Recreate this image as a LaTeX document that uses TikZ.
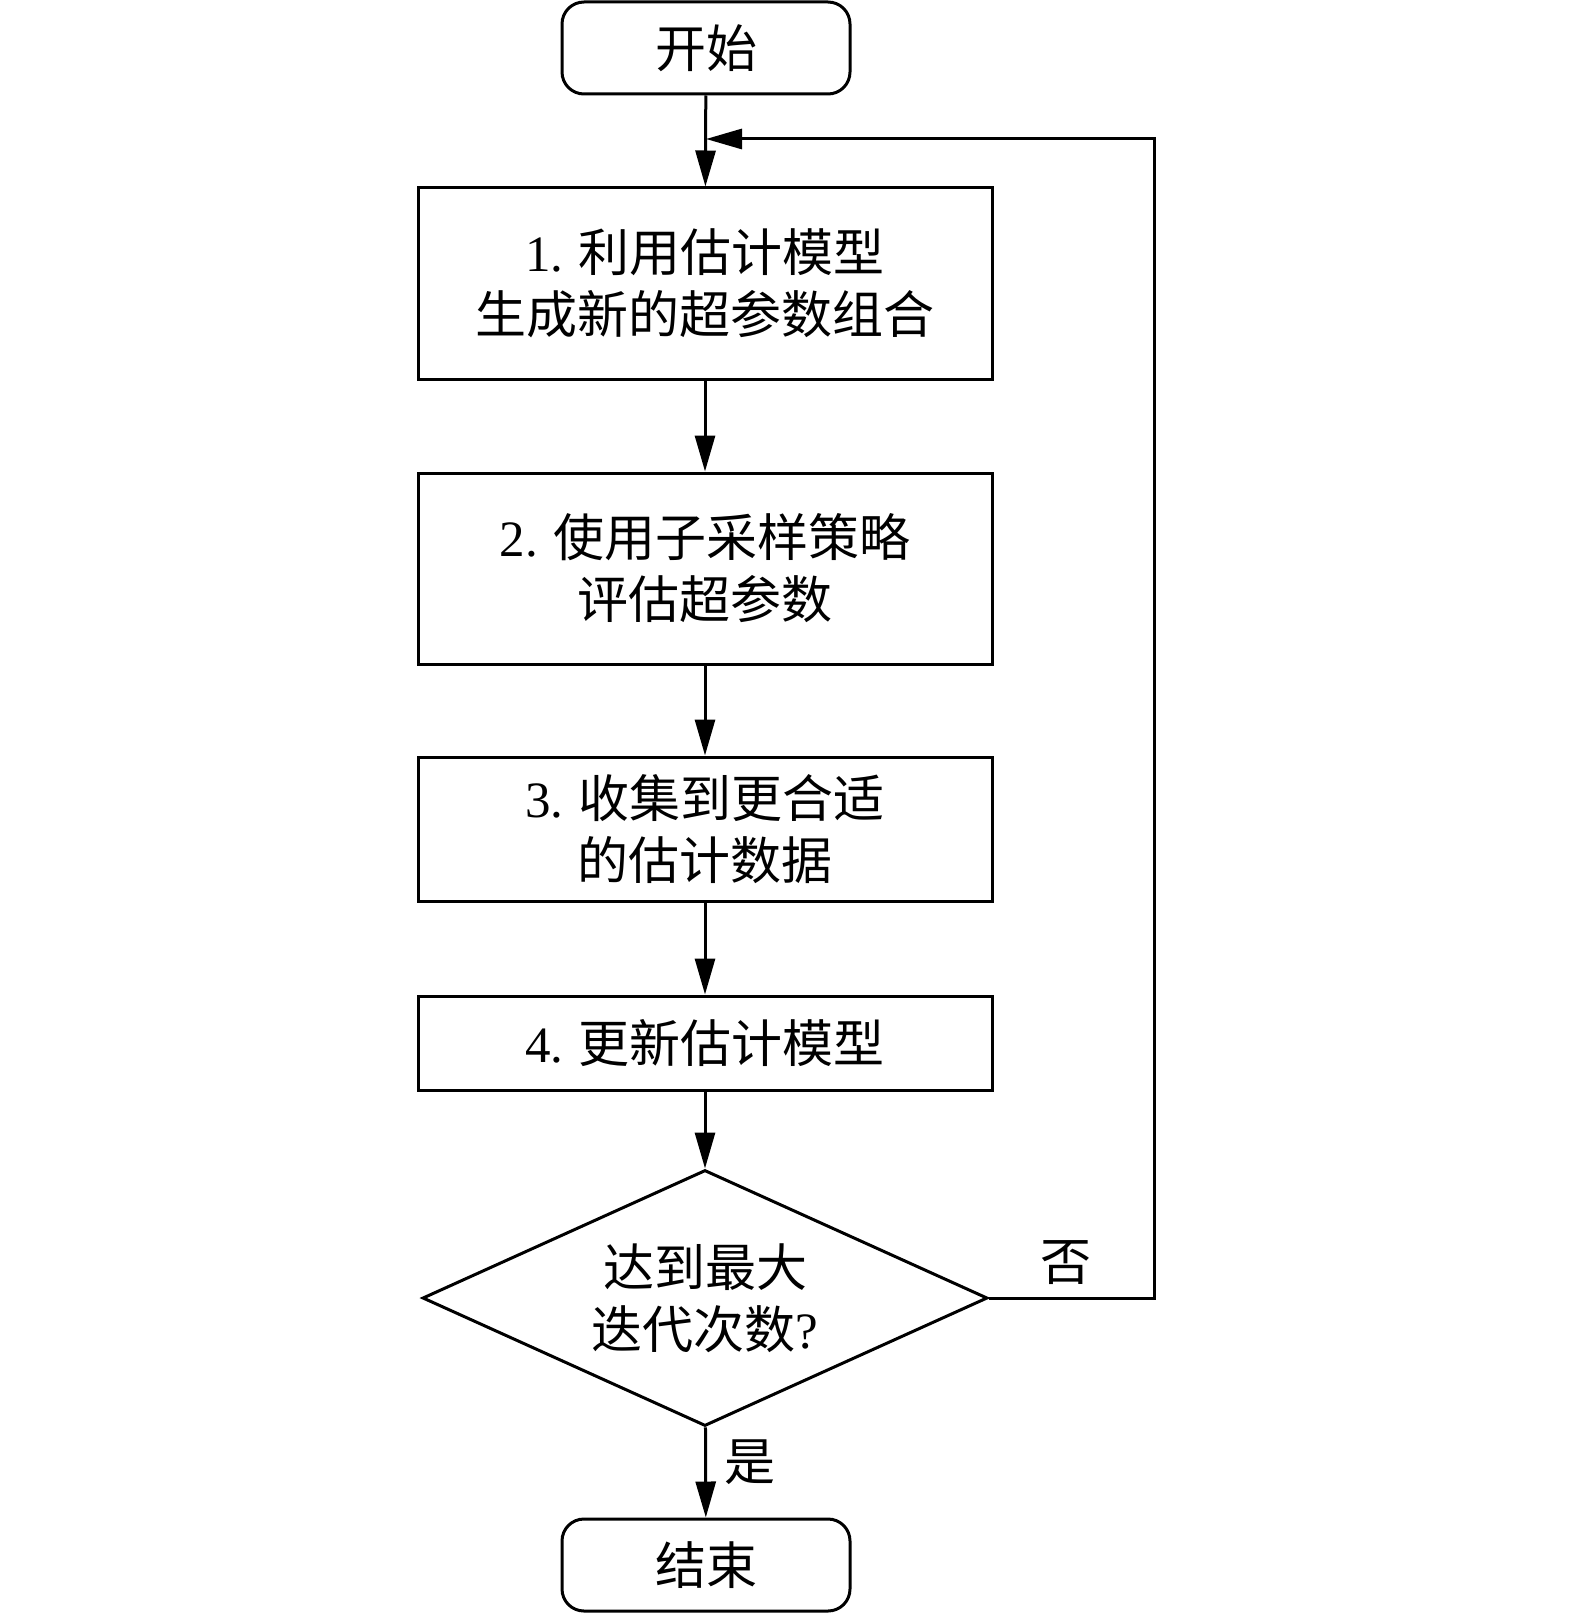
\documentclass[tikz,border=0pt]{standalone}
\usepackage{fontspec}
\setmainfont{Liberation Serif}
\newfontfamily\cjk{Noto Sans CJK SC}
\usetikzlibrary{shapes.geometric,arrows.meta}
\begin{document}
\begin{tikzpicture}[x=1pt,y=-1pt,line width=3pt,
  every node/.style={font=\cjk\fontsize{51}{62}\selectfont},
  term/.style={draw,rounded corners=22pt,minimum width=288pt,minimum height=92pt,inner sep=0pt},
  proc/.style={draw,minimum width=574pt,inner sep=0pt,align=center},
  dec/.style={draw,diamond,shape aspect=2.2,minimum width=565pt,minimum height=256pt,inner sep=0pt,align=center},
  arr/.style={-{Triangle[length=36pt,width=20pt]}}]
\useasboundingbox (0,0) rectangle (1575,1613);
\node[term] (start) at (706,48) {开始};
\node[proc,minimum height=191pt] (b1) at (705,283.5) {{\rmfamily 1.} 利用估计模型\\生成新的超参数组合};
\node[proc,minimum height=191pt] (b2) at (705,568.5) {{\rmfamily 2.} 使用子采样策略\\评估超参数};
\node[proc,minimum height=144pt] (b3) at (705,829) {{\rmfamily 3.} 收集到更合适\\的估计数据};
\node[proc,minimum height=94pt] (b4) at (705,1043) {{\rmfamily 4.} 更新估计模型};
\node[dec] (dec) at (705,1298) {达到最大\\迭代次数{\rmfamily ?}};
\node[term] (end) at (706,1565) {结束};
\coordinate (fr) at (1154,139);
\coordinate (join) at (start.south |- fr);
\draw[arr] (start) -- (b1);
\draw[arr] (b1) -- (b2);
\draw[arr] (b2) -- (b3);
\draw[arr] (b3) -- (b4);
\draw[arr] (b4) -- (dec);
\draw[arr] (dec) -- (end);
\draw[arr] (dec.east) -| (fr) -- (join);
\node (no) at (1066,1263) {否};
\node (yes) at (750,1462) {是};
\end{tikzpicture}
\end{document}
